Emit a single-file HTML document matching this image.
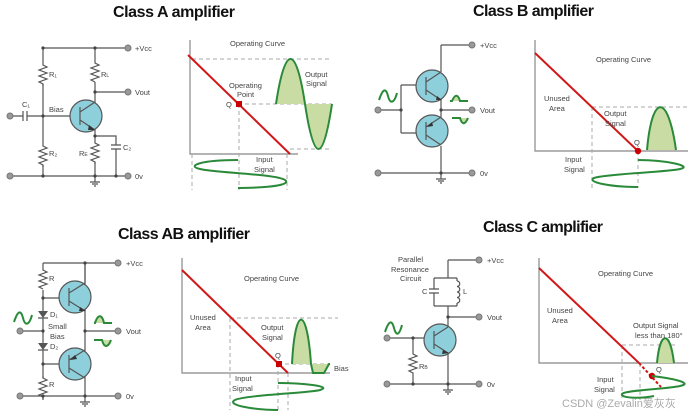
<!DOCTYPE html>
<html><head><meta charset="utf-8"><style>
html,body{margin:0;padding:0;background:#fff;width:692px;height:418px;overflow:hidden}
svg{display:block}
text{font-family:"Liberation Sans",sans-serif;fill:#444;font-size:7.5px}
.t{font-weight:bold;fill:#111;font-size:16px}
.w{stroke:#555;stroke-width:1.2;fill:none}
.ax{stroke:#888;stroke-width:1.2;fill:none}
.d{stroke:#aaa;stroke-width:1;stroke-dasharray:4 3;fill:none}
.r{stroke:#d01818;stroke-width:2;fill:none}
.g{stroke:#2a8a3a;stroke-width:2;fill:none}
.gf{fill:#c8dca4;stroke:none}
.tc{fill:#8ecfdc;stroke:#555;stroke-width:1.2}
.o{fill:#999;stroke:#777;stroke-width:1}
.n{fill:#444}
</style></head><body>
<svg width="692" height="418" viewBox="0 0 692 418" xmlns="http://www.w3.org/2000/svg">

<!-- ========== CLASS A ========== -->
<text class="t" x="113" y="17" textLength="122">Class A amplifier</text>
<path class="w" d="M43 48H126 M43 48V62 M43 84V143 M43 165V176 M10 116H23 M27 116H43 M43 116H70 M10 176H126 M95 48V60 M95 82V98 M95 92H126 M95 134V140 M95 162V176 M95 136H116V145 M116 149V176 M95 176V182 M90 182H100 M92 184H98 M94 186H96"/>
<path class="w" d="M43 62l0 3l4 2l-8 3l8 3l-8 3l8 3l-8 3l4 2l0 2"/>
<path class="w" d="M43 143l0 3l4 2l-8 3l8 3l-8 3l8 3l-8 3l4 2l0 2"/>
<path class="w" d="M95 60l0 3l4 2l-8 3l8 3l-8 3l8 3l-8 3l4 2l0 0"/>
<path class="w" d="M95 140l0 3l4 2l-8 3l8 3l-8 3l8 3l-8 3l4 2l0 2"/>
<path class="w" d="M23 111V121 M27 111V121 M111 145H121 M111 149H121"/>
<circle class="tc" cx="86" cy="116" r="16"/>
<path class="w" d="M80 107V125 M80 112L95 102V98 M80 120L95 130V134"/>
<path d="M89 125L95 130L88 130Z" fill="#333"/>
<circle class="n" cx="43" cy="116" r="1.6"/><circle class="n" cx="43" cy="48" r="1.6"/><circle class="n" cx="95" cy="48" r="1.6"/><circle class="n" cx="95" cy="92" r="1.6"/><circle class="n" cx="95" cy="136" r="1.6"/><circle class="n" cx="43" cy="176" r="1.6"/><circle class="n" cx="95" cy="176" r="1.6"/><circle class="n" cx="116" cy="176" r="1.6"/>
<circle class="o" cx="128" cy="48" r="3"/><circle class="o" cx="128" cy="92" r="3"/><circle class="o" cx="128" cy="176" r="3"/><circle class="o" cx="10" cy="116" r="3"/><circle class="o" cx="10" cy="176" r="3"/>
<text x="135" y="51">+Vcc</text><text x="135" y="95">Vout</text><text x="135" y="179">0v</text>
<text x="49" y="77">R₁</text><text x="101" y="77">R<tspan font-size="5">L</tspan></text><text x="49" y="156">R₂</text><text x="79" y="156">R<tspan font-size="5">E</tspan></text><text x="22" y="107">C₁</text><text x="123" y="150">C₂</text><text x="49" y="112">Bias</text>
<!-- graph A -->
<path class="ax" d="M190 40V154H298"/>
<path class="d" d="M192 59H330 M245 104H332 M290 149H330 M192 154V190 M239 104V190 M287 154V190"/>
<path class="gf" d="M276 104C285 44 296 44 305 104Z M305 104C314 164 323 164 332 104Z"/>
<path class="g" d="M276 104C285 44 296 44 305 104C314 164 323 164 332 104"/>
<path class="r" d="M188 55L290 154"/>
<rect x="236" y="101" width="6" height="6" fill="#c00"/>
<path class="g" d="M238 160C200 160 186 166 200 169C215 173 282 174 286 181C289 187 250 188 238 188"/>
<text x="230" y="46">Operating Curve</text><text x="229" y="88">Operating</text><text x="237" y="97">Point</text><text x="226" y="107">Q</text><text x="305" y="77">Output</text><text x="306" y="86">Signal</text><text x="256" y="162">Input</text><text x="254" y="172">Signal</text>

<!-- ========== CLASS B ========== -->
<text class="t" x="473" y="16" textLength="121">Class B amplifier</text>
<path class="w" d="M441 45H469 M441 45V72 M441 100V122 M441 110H469 M381 110H402 M401 85V133 M401 85H418 M401 133H418 M381 173H469 M441 146V179 M436 179H446 M438 181H444 M440 183H442"/>
<circle class="tc" cx="432" cy="86" r="16"/>
<path class="w" d="M426 77V95 M426 82L441 72 M426 90L441 100" />
<path d="M437 96L442 100L436 100Z" fill="#333"/>
<circle class="tc" cx="432" cy="131" r="16"/>
<path class="w" d="M426 122V140 M426 127L441 117 M426 135L441 145"/>
<path d="M427 127L432 122L433 126Z" fill="#333"/>
<circle class="n" cx="401" cy="110" r="1.6"/><circle class="n" cx="441" cy="110" r="1.6"/><circle class="n" cx="441" cy="173" r="1.6"/>
<circle class="o" cx="472" cy="45" r="3"/><circle class="o" cx="472" cy="110" r="3"/><circle class="o" cx="472" cy="173" r="3"/><circle class="o" cx="378" cy="110" r="3"/><circle class="o" cx="378" cy="173" r="3"/>
<text x="480" y="48">+Vcc</text><text x="480" y="113">Vout</text><text x="480" y="176">0v</text>
<path class="g" stroke-width="1.2" d="M379 100C383 88 386 88 388 96C390 104 394 104 397 93"/>
<path class="gf" d="M452 101C455 94 458 94 460 101Z"/><path class="g" stroke-width="1.2" d="M450 101H452C455 94 458 94 460 101H468"/>
<path class="gf" d="M460 118C462 125 465 125 468 118Z"/><path class="g" stroke-width="1.2" d="M452 118H460C462 125 465 125 468 118"/>
<!-- graph B -->
<path class="ax" d="M535 40V151H688"/>
<path class="d" d="M592 107H688 M592 107V188 M638 151V188"/>
<path class="gf" d="M647 150C652 93 668 93 676 150Z"/>
<path class="g" d="M647 150C652 93 668 93 676 150"/>
<path class="r" d="M535 53L638 151"/>
<circle cx="638" cy="151" r="3.2" fill="#c00"/>
<path class="g" d="M638 160C665 160 694 166 680 169C668 172 605 174 594 178C586 182 610 187 638 187"/>
<text x="596" y="62">Operating Curve</text><text x="544" y="101">Unused</text><text x="549" y="111">Area</text><text x="604" y="116">Output</text><text x="605" y="126">Signal</text><text x="634" y="145">Q</text><text x="565" y="162">Input</text><text x="564" y="172">Signal</text>

<!-- ========== CLASS AB ========== -->
<text class="t" x="118" y="239" textLength="132">Class AB amplifier</text>
<path class="w" d="M43 263H115 M43 263V268 M43 290V311 M43 318V343 M43 350V378 M43 298H62 M43 364H62 M20 331H43 M85 263V288 M85 307V355 M85 331H115 M85 373V402 M20 396H115 M43 396V400 M80 402H90 M82 404H88 M84 406H86"/>
<path class="w" d="M43 268l0 2l4 2l-8 3l8 3l-8 3l8 3l-8 3l4 2l0 0"/>
<path class="w" d="M43 376l0 2l4 2l-8 3l8 3l-8 3l8 3l-8 3l4 2l0 2"/>
<path d="M38 311H48L43 318Z M38 343H48L43 350Z" fill="#555"/><path class="w" d="M38 318H48 M38 350H48"/>
<circle class="tc" cx="75" cy="297" r="16"/>
<path class="w" d="M69 288V306 M69 293L85 283V263 M69 301L85 311"/>
<path d="M80 307L86 311L79 311Z" fill="#333"/>
<circle class="tc" cx="75" cy="364" r="16"/>
<path class="w" d="M69 355V373 M69 360L85 350 M69 368L85 378"/>
<path d="M70 360L75 355L77 359Z" fill="#333"/>
<circle class="n" cx="85" cy="263" r="1.6"/><circle class="n" cx="43" cy="298" r="1.6"/><circle class="n" cx="43" cy="331" r="1.6"/><circle class="n" cx="43" cy="364" r="1.6"/><circle class="n" cx="85" cy="331" r="1.6"/><circle class="n" cx="43" cy="396" r="1.6"/><circle class="n" cx="85" cy="396" r="1.6"/>
<circle class="o" cx="118" cy="263" r="3"/><circle class="o" cx="118" cy="331" r="3"/><circle class="o" cx="118" cy="396" r="3"/><circle class="o" cx="20" cy="331" r="3"/><circle class="o" cx="20" cy="396" r="3"/>
<text x="126" y="266">+Vcc</text><text x="126" y="334">Vout</text><text x="126" y="399">0v</text>
<text x="49" y="281">R</text><text x="49" y="387">R</text><text x="50" y="317">D₁</text><text x="50" y="349">D₂</text><text x="48" y="329">Small</text><text x="50" y="339">Bias</text>
<path class="g" stroke-width="1.2" d="M14 322C18 310 21 310 23 318C25 326 29 326 32 315"/>
<path class="gf" d="M95 323C98 314 102 314 104 323Z"/><path class="g" stroke-width="1.2" d="M94 323H95C98 314 102 314 104 323H112"/>
<path class="gf" d="M102 340C104 348 108 348 111 340Z"/><path class="g" stroke-width="1.2" d="M94 340H102C104 348 108 348 111 340"/>
<!-- graph AB -->
<path class="ax" d="M182 258V373H330"/>
<path class="d" d="M230 318H338 M230 318V410 M278 364V410 M288 373V410 M285 364H330"/>
<path class="gf" d="M292 364C295 305 307 305 311 364Z M311 364L313 373H324L329 364Z"/>
<path class="g" d="M292 364C295 305 307 305 311 364L313 373H324L329 364H330"/>
<path class="r" d="M182 270L288 373"/>
<rect x="276" y="361" width="6" height="6" fill="#c00"/>
<path class="g" d="M278 383C300 383 334 386 320 390C310 393 245 395 235 400C225 405 255 410 278 410"/>
<text x="244" y="281">Operating Curve</text><text x="190" y="320">Unused</text><text x="195" y="330">Area</text><text x="261" y="330">Output</text><text x="262" y="340">Signal</text><text x="275" y="358">Q</text><text x="334" y="371">Bias</text><text x="235" y="381">Input</text><text x="232" y="391">Signal</text>

<!-- ========== CLASS C ========== -->
<text class="t" x="483" y="232" textLength="120">Class C amplifier</text>
<path class="w" d="M448 260H476 M448 260V278 M434 278H457 M434 278V289 M434 293V306 M434 306H457 M457 278V281 M457 303V306 M448 306V330 M448 317H476 M387 338H424 M413 338V352 M413 374V384 M387 384H476 M448 349V390 M443 390H453 M445 392H451 M447 394H449 M429 289H439 M429 293H439"/>
<path class="w" d="M457 281a2.7 2.7 0 0 1 0 5.5a2.7 2.7 0 0 1 0 5.5a2.7 2.7 0 0 1 0 5.5a2.7 2.7 0 0 1 0 5.5"/>
<path class="w" d="M413 352l0 2l4 2l-8 3l8 3l-8 3l8 3l-8 3l4 2l0 1"/>
<circle class="tc" cx="440" cy="340" r="16"/>
<path class="w" d="M434 331V349 M434 336L448 327 M434 344L448 353"/>
<path d="M443 350L449 353L442 354Z" fill="#333"/>
<circle class="n" cx="448" cy="317" r="1.6"/><circle class="n" cx="413" cy="338" r="1.6"/><circle class="n" cx="413" cy="384" r="1.6"/><circle class="n" cx="448" cy="384" r="1.6"/>
<circle class="o" cx="479" cy="260" r="3"/><circle class="o" cx="479" cy="317" r="3"/><circle class="o" cx="479" cy="384" r="3"/><circle class="o" cx="387" cy="338" r="3"/><circle class="o" cx="387" cy="384" r="3"/>
<text x="487" y="263">+Vcc</text><text x="487" y="320">Vout</text><text x="487" y="387">0v</text>
<text x="398" y="262">Parallel</text><text x="391" y="272">Resonance</text><text x="400" y="281">Circuit</text><text x="422" y="294">C</text><text x="463" y="294">L</text><text x="419" y="369">R<tspan font-size="5">B</tspan></text>
<path class="g" stroke-width="1.2" d="M385 332C389 320 392 320 394 328C396 336 399 336 402 325"/>
<!-- graph C -->
<path class="ax" d="M539 258V363H688"/>
<path class="d" d="M622 345H675 M622 345V400 M640 363V400"/>
<path class="gf" d="M657 363C660 330 670 330 674 363Z"/>
<path class="g" d="M657 363C660 330 670 330 674 363"/>
<path class="r" d="M539 268L639 363"/>
<path d="M639 363L661 387" stroke="#d01818" stroke-width="2" stroke-dasharray="3 2" fill="none"/>
<circle cx="652" cy="376" r="3.2" fill="#c00"/>
<path class="g" d="M652 376C670 378 695 383 680 386C668 389 625 390 622 394C620 398 640 399 654 396"/>
<text x="598" y="276">Operating Curve</text><text x="547" y="313">Unused</text><text x="552" y="323">Area</text><text x="633" y="328">Output Signal</text><text x="635" y="338">less than 180°</text><text x="656" y="372">Q</text><text x="597" y="382">Input</text><text x="594" y="392">Signal</text>
<text x="562" y="407" style="font-size:11px;fill:#aaa">CSDN @Zevalin<tspan style="font-family:'Noto Sans CJK SC',sans-serif">爱灰灰</tspan></text>
</svg>
</body></html>
